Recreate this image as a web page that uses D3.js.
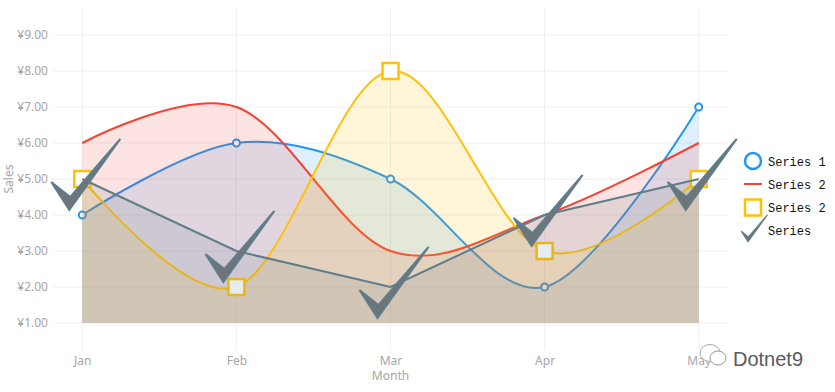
<!DOCTYPE html>
<html>
<head>
<meta charset="utf-8">
<script src="https://cdn.jsdelivr.net/npm/d3@7"></script>
<style>
  body { margin: 0; background: #fff; }
  svg { display: block; }
  .tick-label { font-family: "Noto Sans", sans-serif; font-size: 12px; fill: #a6a6a6; }
  .legend-text { font-family: "Liberation Mono", monospace; font-size: 12px; fill: #111; }
</style>
</head>
<body>
<svg id="chart" width="835" height="392"></svg>
<script>
// data
const months = ["Jan", "Feb", "Mar", "Apr", "May"];
const yTicks = [1, 2, 3, 4, 5, 6, 7, 8, 9];
const series1 = [4, 6, 5, 2, 7];
const series2 = [6, 7, 3, 4, 6];
const series3 = [5, 2, 8, 3, 5];
const series4 = [5, 3, 2, 4, 5];
const seriesNames = ["Series 1", "Series 2", "Series 2", "Series"];

const svg = d3.select("#chart");

const x = d3.scalePoint()
  .domain(months)
  .range([53, 728])
  .padding(0.19);

const y = d3.scaleLinear()
  .domain([0.25, 9.75])
  .range([350, 8]);

const base = 1;
const fmt = v => "¥" + d3.format(".2f")(v);

// grid
const grid = svg.append("g");
grid.selectAll(".hgrid")
  .data(yTicks)
  .enter().append("line")
  .attr("x1", 53).attr("x2", 728)
  .attr("y1", d => y(d)).attr("y2", d => y(d))
  .attr("stroke", "#efefef");
grid.selectAll(".vgrid")
  .data(months)
  .enter().append("line")
  .attr("x1", d => x(d)).attr("x2", d => x(d))
  .attr("y1", y.range()[1]).attr("y2", y.range()[0])
  .attr("stroke", "#efefef");

// axes labels
const yAxis = d3.axisLeft(y).tickValues(yTicks).tickFormat(fmt).tickSize(0).tickPadding(5);
const yAxisG = svg.append("g").attr("transform", "translate(53,0)").call(yAxis);
yAxisG.select(".domain").remove();
yAxisG.selectAll("text").attr("class", "tick-label").attr("fill", null);

const xAxis = d3.axisBottom(x).tickSize(0).tickPadding(6);
const xAxisG = svg.append("g").attr("transform", "translate(0,350)").call(xAxis);
xAxisG.select(".domain").remove();
xAxisG.selectAll("text").attr("class", "tick-label").attr("fill", null);

svg.append("text")
  .attr("class", "tick-label")
  .attr("x", (x("Mar")))
  .attr("y", 380)
  .attr("text-anchor", "middle")
  .text("Month");

svg.append("text")
  .attr("class", "tick-label")
  .attr("transform", "translate(13," + y(5) + ") rotate(-90)")
  .attr("text-anchor", "middle")
  .text("Sales");

const spline = d3.curveCardinal.tension(0);

function drawSeries(vals, color, curve) {
  const g = svg.append("g");
  const area = d3.area()
    .x((d, i) => x(months[i]))
    .y0(y(base))
    .y1(d => y(d))
    .curve(curve);
  const line = d3.line()
    .x((d, i) => x(months[i]))
    .y(d => y(d))
    .curve(curve);
  g.append("path").datum(vals)
    .attr("d", area)
    .attr("fill", color)
    .attr("fill-opacity", 0.15);
  g.append("path").datum(vals)
    .attr("d", line)
    .attr("fill", "none")
    .attr("stroke", color)
    .attr("stroke-width", 2);
  return g;
}

const checkPath = "M-31,3 L-13,31 L38,-40 L-12,18 Z";

const g1 = drawSeries(series1, "#2196f3", spline);
g1.selectAll("circle").data(series1).enter().append("circle")
  .attr("cx", (d, i) => x(months[i]))
  .attr("cy", d => y(d))
  .attr("r", 3.5)
  .attr("fill", "#fff")
  .attr("stroke", "#2196f3")
  .attr("stroke-width", 2);

drawSeries(series2, "#f44336", spline);

const g3 = drawSeries(series3, "#ffc107", spline);
g3.selectAll("rect").data(series3).enter().append("rect")
  .attr("x", (d, i) => x(months[i]) - 8)
  .attr("y", d => y(d) - 8)
  .attr("width", 16).attr("height", 16)
  .attr("fill", "#fff")
  .attr("stroke", "#ffc107")
  .attr("stroke-width", 2.5);

const g4 = drawSeries(series4, "#607d8b", d3.curveLinear);
g4.selectAll(".check").data(series4).enter().append("path")
  .attr("class", "check")
  .attr("transform", (d, i) => `translate(${x(months[i])},${y(d)})`)
  .attr("d", checkPath)
  .attr("fill", "#6e7478")
  .attr("stroke", "#607d8b")
  .attr("stroke-width", 2)
  .attr("stroke-linejoin", "miter");

// legend
const legend = svg.append("g").attr("transform", "translate(744,0)");
const rowY = [161, 184, 207.5, 230];
legend.append("circle").attr("cx", 9).attr("cy", rowY[0]).attr("r", 8)
  .attr("fill", "none").attr("stroke", "#2196f3").attr("stroke-width", 2.5);
legend.append("line").attr("x1", 0).attr("x2", 18).attr("y1", rowY[1]).attr("y2", rowY[1])
  .attr("stroke", "#f44336").attr("stroke-width", 2);
legend.append("rect").attr("x", 1).attr("y", rowY[2] - 8).attr("width", 16).attr("height", 16)
  .attr("fill", "#fff").attr("stroke", "#ffc107").attr("stroke-width", 2.5);
legend.append("path")
  .attr("transform", `translate(9,${rowY[3]}) scale(0.38)`)
  .attr("d", checkPath)
  .attr("fill", "#6e7478")
  .attr("stroke", "#607d8b")
  .attr("stroke-width", 3);
legend.selectAll(".legend-text").data(seriesNames).enter().append("text")
  .attr("class", "legend-text")
  .attr("x", 24)
  .attr("y", (d, i) => rowY[i] + 4.5)
  .text(d => d);

// watermark
const wm = svg.append("g").attr("transform", "translate(698,345)");
wm.append("ellipse").attr("cx", 12).attr("cy", 8).attr("rx", 10).attr("ry", 8.5)
  .attr("fill", "#fff").attr("stroke", "#aaa").attr("stroke-width", 1);
wm.append("ellipse").attr("cx", 20).attr("cy", 13).attr("rx", 8).attr("ry", 7)
  .attr("fill", "#fff").attr("stroke", "#999").attr("stroke-width", 1);
wm.append("text")
  .attr("x", 35).attr("y", 21)
  .attr("font-family", "Liberation Sans, sans-serif")
  .attr("font-size", 20)
  .attr("fill", "#5a5a5a")
  .text("Dotnet9");
</script>
</body>
</html>
